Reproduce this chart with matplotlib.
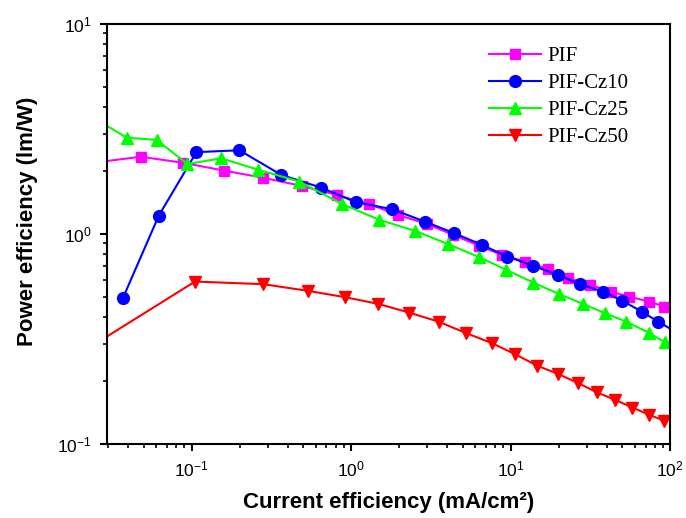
import matplotlib
matplotlib.use("Agg")
import matplotlib.pyplot as plt
from matplotlib.ticker import LogLocator, NullFormatter, FixedLocator

plt.rcParams["font.family"] = ["Liberation Sans", "DejaVu Sans"]
plt.rcParams["mathtext.fontset"] = "custom"
plt.rcParams["mathtext.rm"] = "Liberation Sans"
plt.rcParams["mathtext.it"] = "Liberation Sans"
plt.rcParams["mathtext.bf"] = "Liberation Sans:bold"

# data (current density in mA/cm2, power efficiency in lm/W)
pif_x = [0.02, 0.048, 0.0885, 0.160, 0.281, 0.493, 0.817, 1.30, 1.97, 2.98, 4.36,
         6.35, 8.81, 12.3, 17.2, 22.9, 31.5, 42.5, 55.3, 73.8, 91.7]
pif_y = [2.14, 2.33, 2.18, 2.00, 1.85, 1.69, 1.53, 1.385, 1.23, 1.116, 0.989,
         0.877, 0.794, 0.738, 0.681, 0.617, 0.572, 0.531, 0.503, 0.476, 0.451]

cz10_x = [0.0372, 0.0623, 0.1072, 0.1994, 0.364, 0.648, 1.07, 1.80, 2.90, 4.42,
          6.60, 9.55, 13.9, 19.7, 27.3, 37.8, 50.2, 66.1, 84.1, 110]
cz10_y = [0.497, 1.222, 2.45, 2.50, 1.91, 1.66, 1.416, 1.311, 1.144, 1.008,
          0.886, 0.780, 0.704, 0.638, 0.576, 0.531, 0.480, 0.427, 0.382, 0.339]

cz25_x = [0.02, 0.0392, 0.0605, 0.0941, 0.153, 0.262, 0.472, 0.882, 1.504, 2.52,
          4.02, 6.37, 9.37, 13.9, 20.0, 28.6, 39.1, 53.0, 73.1, 93.0]
cz25_y = [3.9, 2.87, 2.80, 2.15, 2.29, 2.02, 1.775, 1.385, 1.166, 1.033,
          0.896, 0.774, 0.674, 0.586, 0.518, 0.463, 0.419, 0.382, 0.339, 0.304]

cz50_x = [0.02, 0.105, 0.282, 0.540, 0.917, 1.483, 2.31, 3.53, 5.26, 7.62, 10.7,
          14.6, 19.9, 26.6, 34.7, 45.2, 58.0, 73.9, 91.7]
cz50_y = [0.27, 0.593, 0.576, 0.535, 0.4995, 0.464, 0.422, 0.382, 0.337, 0.302, 0.267,
          0.236, 0.215, 0.1945, 0.176, 0.162, 0.149, 0.1375, 0.129]

fig = plt.figure(figsize=(6.86, 5.18), dpi=100)
ax = fig.add_axes([0.156, 0.143, 0.821, 0.811])

ax.plot(pif_x, pif_y, color="#FF00FF", marker="s", markersize=7, linewidth=1.5, label="PIF")
ax.plot(cz10_x, cz10_y, color="#0000FF", marker="o", markersize=8.5, linewidth=1.5, label="PIF-Cz10")
ax.plot(cz25_x, cz25_y, color="#00FF00", marker="^", markersize=9, linewidth=1.5, label="PIF-Cz25")
ax.plot(cz50_x, cz50_y, color="#FF0000", marker="v", markersize=9, linewidth=1.5, label="PIF-Cz50")

ax.set_xscale("log")
ax.set_yscale("log")
ax.set_xlim(0.0295, 100)
ax.set_ylim(0.1, 10)

ax.xaxis.set_major_locator(FixedLocator([0.1, 1, 10, 100]))
ax.set_xticklabels(["$10^{-1}$", "$10^{0}$", "$10^{1}$", "$10^{2}$"])
ax.yaxis.set_major_locator(FixedLocator([0.1, 1, 10]))
ax.set_yticklabels(["$10^{-1}$", "$10^{0}$", "$10^{1}$"])
ax.xaxis.set_minor_locator(LogLocator(base=10, subs=range(2, 10), numticks=20))
ax.yaxis.set_minor_locator(LogLocator(base=10, subs=range(2, 10), numticks=20))
ax.xaxis.set_minor_formatter(NullFormatter())
ax.yaxis.set_minor_formatter(NullFormatter())

ax.tick_params(which="major", direction="out", length=5, width=1.5, labelsize=12.5, pad=6)
ax.tick_params(which="minor", direction="out", length=3, width=1.2)
for s in ax.spines.values():
    s.set_linewidth(1.5)

ax.set_xlabel("Current efficiency (mA/cm²)", fontsize=16, fontweight="bold", labelpad=9)
ax.set_ylabel("Power efficiency (lm/W)", fontsize=16, fontweight="bold")
ax.yaxis.set_label_coords(-0.123, 0.53)

ax.legend(loc="upper left", bbox_to_anchor=(0.645, 0.99), frameon=False,
          prop={"family": "Liberation Serif", "size": 15},
          handlelength=2.5, handletextpad=0.3, labelspacing=0.35)

fig.savefig("out.png", dpi=100)
